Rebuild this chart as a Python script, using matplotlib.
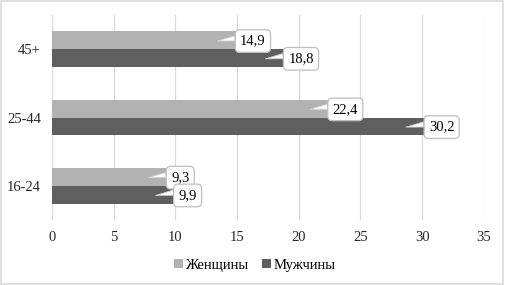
import numpy as np
import matplotlib.pyplot as plt
from matplotlib.patches import Rectangle

### data
groups = ['16-24', '25-44', '45+']
women = [9.3, 22.4, 14.9]
men = [9.9, 30.2, 18.8]
series_names = ['Женщины', 'Мужчины']

plt.rcParams['font.family'] = ['Liberation Serif', 'DejaVu Serif']

fig = plt.figure(figsize=(5.05, 2.85), dpi=100)
ax = fig.add_axes([0.103, 0.228, 0.855, 0.719])

y = np.arange(len(groups))
h = 0.26
b1 = ax.barh(y + h / 2, women, height=h, color='#b2b2b2', label=series_names[0], zorder=2)
b2 = ax.barh(y - h / 2, men, height=h, color='#5f5f5f', label=series_names[1], zorder=2)

### callout labels
for yy, vals in [(y + h / 2, women), (y - h / 2, men)]:
    for yi, v in zip(yy, vals):
        lbl = '{:.1f}'.format(v).replace('.', ',')
        ax.annotate(lbl, xy=(v - 1.5, yi - 0.01), xytext=(v + 0.35, yi - 0.01),
                    ha='left', va='center', fontsize=10.5, zorder=5,
                    bbox=dict(boxstyle='round,pad=0.33,rounding_size=0.3',
                              fc='white', ec='#bfbfbf', lw=0.9),
                    arrowprops=dict(arrowstyle='wedge,tail_width=0.35',
                                    fc='white', ec='#d0d0d0', lw=0.6,
                                    relpos=(0.05, 0.78),
                                    shrinkA=0, shrinkB=0))

ax.set_xlim(0, 35)
ax.set_ylim(-0.5, 2.5)
ax.set_xticks(np.arange(0, 36, 5))
ax.set_yticks(y)
ax.set_yticklabels(groups)
ax.tick_params(length=0, labelsize=10.5, colors='#262626')
ax.tick_params(axis='x', pad=8)
ax.tick_params(axis='y', pad=8)
ax.grid(axis='x', color='#d9d9d9', lw=0.9, zorder=0)
for s in ax.spines.values():
    s.set_visible(False)

fig.legend(handles=[b1, b2], loc='center', bbox_to_anchor=(0.505, 0.07),
           ncol=2, frameon=False, fontsize=10.5, handlelength=0.6,
           handleheight=0.6, handletextpad=0.2, columnspacing=0.9)

fig.patches.append(Rectangle((0.002, 0.003), 0.995, 0.993, transform=fig.transFigure,
                             fill=False, ec='#d9d9d9', lw=1.2))

fig.savefig('out.png', dpi=100)
